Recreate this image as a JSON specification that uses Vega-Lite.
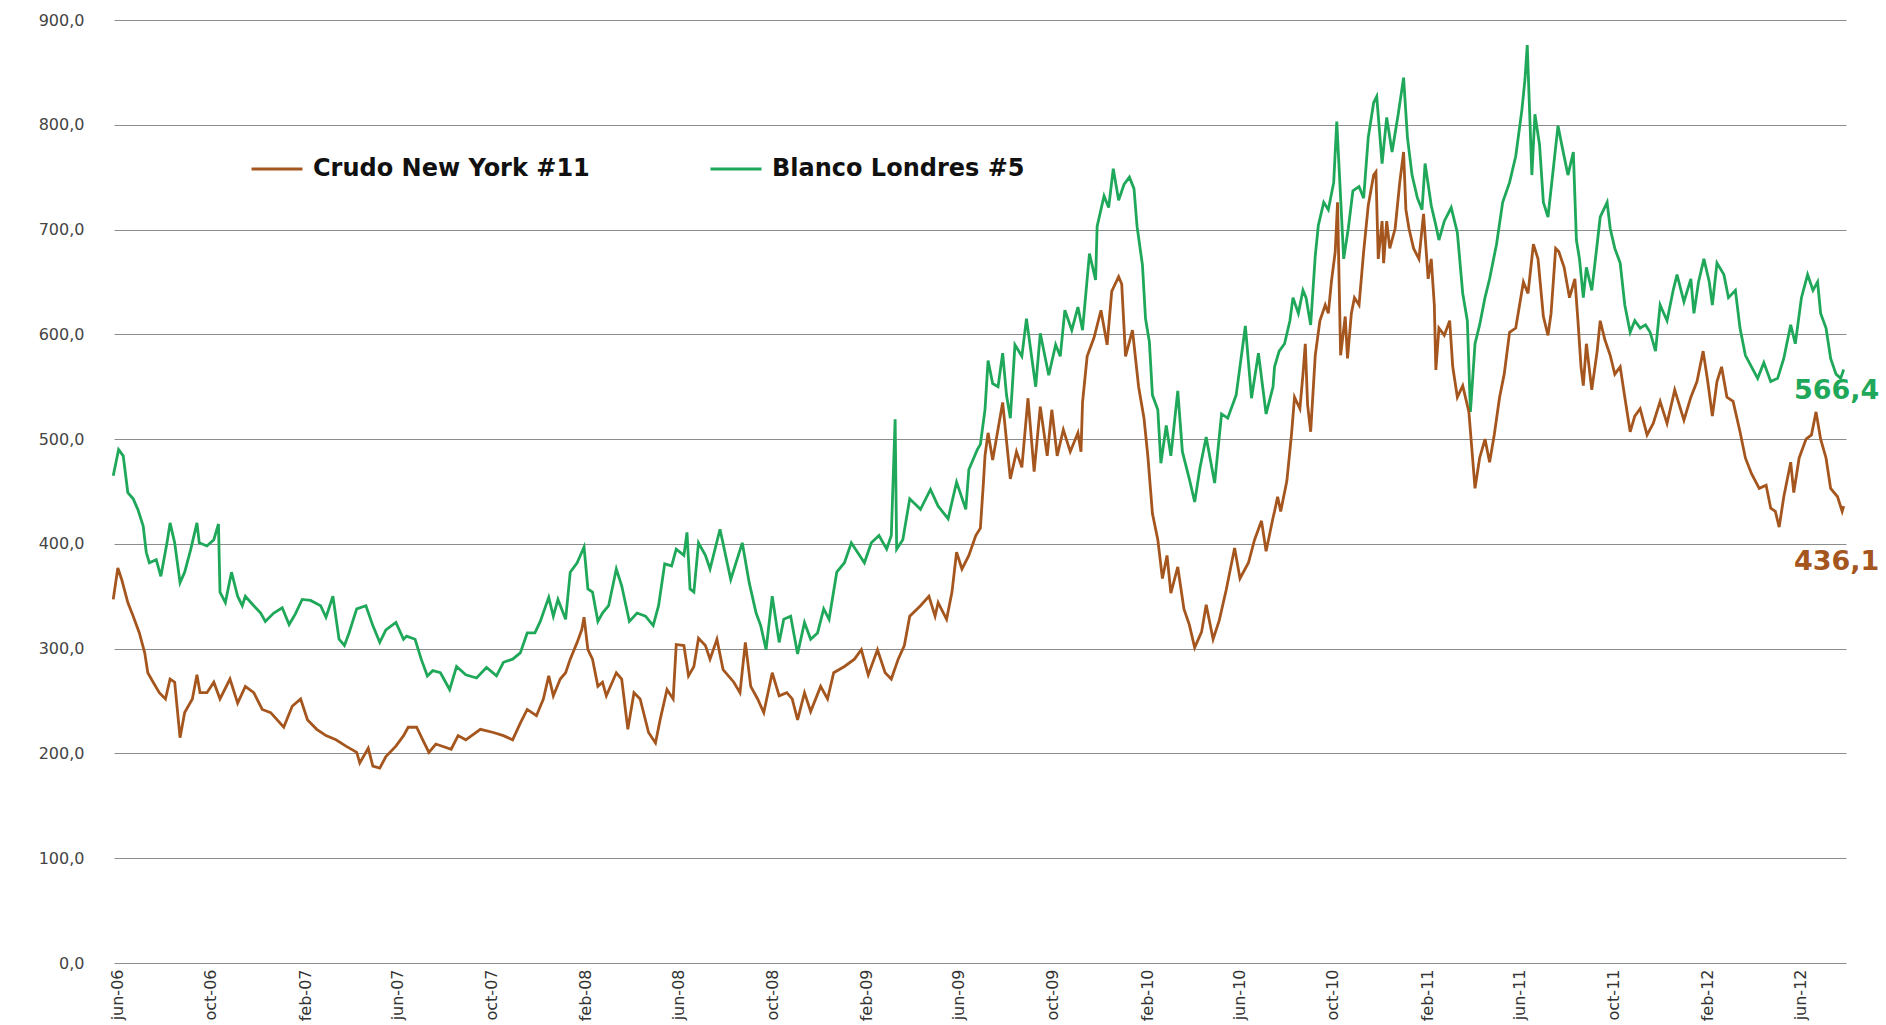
{
"$schema": "https://vega.github.io/schema/vega-lite/v6.json",
"width": 1732, "height": 943,
"autosize": {"type": "none"},
"padding": {"left": 114, "top": 20, "right": 40, "bottom": 62},
"background": "white",
"config": {"view": {"stroke": null}},
"layer": [
{
"data": {"values": [
{"s":"B","d":"2006-05-27","v":465},{"s":"B","d":"2006-06-03","v":490},{"s":"B","d":"2006-06-09","v":484},{"s":"B","d":"2006-06-15","v":449},{"s":"B","d":"2006-06-22","v":443},{"s":"B","d":"2006-06-28","v":433},{"s":"B","d":"2006-07-05","v":417},{"s":"B","d":"2006-07-09","v":392},{"s":"B","d":"2006-07-13","v":382},{"s":"B","d":"2006-07-22","v":385},{"s":"B","d":"2006-07-28","v":369},{"s":"B","d":"2006-08-05","v":401},{"s":"B","d":"2006-08-09","v":420},{"s":"B","d":"2006-08-15","v":401},{"s":"B","d":"2006-08-22","v":363},{"s":"B","d":"2006-08-28","v":373},{"s":"B","d":"2006-09-05","v":395},{"s":"B","d":"2006-09-13","v":420},{"s":"B","d":"2006-09-16","v":401},{"s":"B","d":"2006-09-26","v":398},{"s":"B","d":"2006-10-05","v":404},{"s":"B","d":"2006-10-11","v":419},{"s":"B","d":"2006-10-13","v":354},{"s":"B","d":"2006-10-20","v":344},{"s":"B","d":"2006-10-28","v":373},{"s":"B","d":"2006-11-05","v":350},{"s":"B","d":"2006-11-11","v":341},{"s":"B","d":"2006-11-15","v":350},{"s":"B","d":"2006-11-26","v":341},{"s":"B","d":"2006-12-05","v":334},{"s":"B","d":"2006-12-11","v":326},{"s":"B","d":"2006-12-22","v":334},
{"s":"B","d":"2007-01-02","v":339},{"s":"B","d":"2007-01-11","v":323},{"s":"B","d":"2007-01-19","v":333},{"s":"B","d":"2007-01-28","v":347},{"s":"B","d":"2007-02-08","v":346},{"s":"B","d":"2007-02-21","v":341},{"s":"B","d":"2007-02-28","v":330},{"s":"B","d":"2007-03-09","v":350},{"s":"B","d":"2007-03-17","v":309},{"s":"B","d":"2007-03-24","v":303},{"s":"B","d":"2007-03-30","v":315},{"s":"B","d":"2007-04-09","v":338},{"s":"B","d":"2007-04-21","v":341},{"s":"B","d":"2007-04-30","v":322},{"s":"B","d":"2007-05-09","v":306},{"s":"B","d":"2007-05-17","v":318},{"s":"B","d":"2007-05-30","v":325},{"s":"B","d":"2007-06-09","v":309},{"s":"B","d":"2007-06-13","v":312},{"s":"B","d":"2007-06-24","v":309},{"s":"B","d":"2007-07-02","v":290},{"s":"B","d":"2007-07-10","v":274},{"s":"B","d":"2007-07-17","v":279},{"s":"B","d":"2007-07-27","v":277},{"s":"B","d":"2007-08-08","v":261},{"s":"B","d":"2007-08-17","v":283},{"s":"B","d":"2007-08-29","v":275},{"s":"B","d":"2007-09-12","v":272},{"s":"B","d":"2007-09-25","v":282},{"s":"B","d":"2007-10-08","v":274},{"s":"B","d":"2007-10-17","v":287},{"s":"B","d":"2007-10-29","v":290},{"s":"B","d":"2007-11-08","v":296},{"s":"B","d":"2007-11-17","v":315},{"s":"B","d":"2007-11-27","v":315},{"s":"B","d":"2007-12-04","v":326},{"s":"B","d":"2007-12-15","v":349},{"s":"B","d":"2007-12-21","v":331},{"s":"B","d":"2007-12-27","v":347},
{"s":"B","d":"2008-01-06","v":328},{"s":"B","d":"2008-01-12","v":373},{"s":"B","d":"2008-01-21","v":382},{"s":"B","d":"2008-01-27","v":392},{"s":"B","d":"2008-01-30","v":397},{"s":"B","d":"2008-02-04","v":357},{"s":"B","d":"2008-02-10","v":354},{"s":"B","d":"2008-02-17","v":326},{"s":"B","d":"2008-02-23","v":334},{"s":"B","d":"2008-03-02","v":341},{"s":"B","d":"2008-03-12","v":376},{"s":"B","d":"2008-03-19","v":360},{"s":"B","d":"2008-03-29","v":326},{"s":"B","d":"2008-04-08","v":334},{"s":"B","d":"2008-04-19","v":331},{"s":"B","d":"2008-04-29","v":322},{"s":"B","d":"2008-05-06","v":341},{"s":"B","d":"2008-05-14","v":381},{"s":"B","d":"2008-05-23","v":379},{"s":"B","d":"2008-05-29","v":395},{"s":"B","d":"2008-06-08","v":389},{"s":"B","d":"2008-06-12","v":411},{"s":"B","d":"2008-06-16","v":357},{"s":"B","d":"2008-06-21","v":354},{"s":"B","d":"2008-06-27","v":401},{"s":"B","d":"2008-07-06","v":389},{"s":"B","d":"2008-07-12","v":376},{"s":"B","d":"2008-07-25","v":414},{"s":"B","d":"2008-08-08","v":366},{"s":"B","d":"2008-08-23","v":401},{"s":"B","d":"2008-09-01","v":363},{"s":"B","d":"2008-09-10","v":334},{"s":"B","d":"2008-09-16","v":322},{"s":"B","d":"2008-09-23","v":299},{"s":"B","d":"2008-10-01","v":350},{"s":"B","d":"2008-10-10","v":306},{"s":"B","d":"2008-10-16","v":328},{"s":"B","d":"2008-10-25","v":331},{"s":"B","d":"2008-11-03","v":295},{"s":"B","d":"2008-11-12","v":325},{"s":"B","d":"2008-11-20","v":309},{"s":"B","d":"2008-11-29","v":315},{"s":"B","d":"2008-12-07","v":338},{"s":"B","d":"2008-12-14","v":328},{"s":"B","d":"2008-12-24","v":373},
{"s":"B","d":"2009-01-03","v":382},{"s":"B","d":"2009-01-12","v":401},{"s":"B","d":"2009-01-20","v":392},{"s":"B","d":"2009-01-29","v":382},{"s":"B","d":"2009-02-07","v":401},{"s":"B","d":"2009-02-17","v":408},{"s":"B","d":"2009-02-27","v":395},{"s":"B","d":"2009-03-05","v":408},{"s":"B","d":"2009-03-10","v":519},{"s":"B","d":"2009-03-12","v":395},{"s":"B","d":"2009-03-20","v":404},{"s":"B","d":"2009-03-29","v":443},{"s":"B","d":"2009-04-12","v":433},{"s":"B","d":"2009-04-25","v":452},{"s":"B","d":"2009-05-05","v":436},{"s":"B","d":"2009-05-18","v":424},{"s":"B","d":"2009-05-29","v":459},{"s":"B","d":"2009-06-10","v":433},{"s":"B","d":"2009-06-14","v":471},{"s":"B","d":"2009-06-25","v":490},{"s":"B","d":"2009-06-29","v":495},{"s":"B","d":"2009-07-05","v":528},{"s":"B","d":"2009-07-09","v":575},{"s":"B","d":"2009-07-15","v":553},{"s":"B","d":"2009-07-22","v":550},{"s":"B","d":"2009-07-28","v":582},{"s":"B","d":"2009-08-02","v":542},{"s":"B","d":"2009-08-07","v":520},{"s":"B","d":"2009-08-13","v":590},{"s":"B","d":"2009-08-22","v":579},{"s":"B","d":"2009-08-28","v":615},{"s":"B","d":"2009-09-09","v":550},{"s":"B","d":"2009-09-15","v":601},{"s":"B","d":"2009-09-26","v":561},{"s":"B","d":"2009-10-05","v":590},{"s":"B","d":"2009-10-11","v":579},{"s":"B","d":"2009-10-17","v":623},{"s":"B","d":"2009-10-26","v":604},{"s":"B","d":"2009-11-03","v":626},{"s":"B","d":"2009-11-09","v":604},{"s":"B","d":"2009-11-18","v":677},{"s":"B","d":"2009-11-26","v":652},{"s":"B","d":"2009-11-28","v":703},{"s":"B","d":"2009-12-07","v":732},{"s":"B","d":"2009-12-13","v":721},{"s":"B","d":"2009-12-19","v":758},{"s":"B","d":"2009-12-26","v":728},
{"s":"B","d":"2010-01-02","v":743},{"s":"B","d":"2010-01-09","v":750},{"s":"B","d":"2010-01-15","v":739},{"s":"B","d":"2010-01-19","v":703},{"s":"B","d":"2010-01-26","v":666},{"s":"B","d":"2010-01-30","v":615},{"s":"B","d":"2010-02-04","v":593},{"s":"B","d":"2010-02-08","v":542},{"s":"B","d":"2010-02-15","v":528},{"s":"B","d":"2010-02-19","v":477},{"s":"B","d":"2010-02-26","v":513},{"s":"B","d":"2010-03-04","v":484},{"s":"B","d":"2010-03-13","v":546},{"s":"B","d":"2010-03-19","v":488},{"s":"B","d":"2010-03-28","v":462},{"s":"B","d":"2010-04-04","v":440},{"s":"B","d":"2010-04-11","v":473},{"s":"B","d":"2010-04-19","v":502},{"s":"B","d":"2010-04-30","v":458},{"s":"B","d":"2010-05-09","v":524},{"s":"B","d":"2010-05-17","v":520},{"s":"B","d":"2010-05-28","v":542},{"s":"B","d":"2010-06-09","v":608},{"s":"B","d":"2010-06-17","v":539},{"s":"B","d":"2010-06-26","v":582},{"s":"B","d":"2010-07-06","v":524},{"s":"B","d":"2010-07-15","v":550},{"s":"B","d":"2010-07-17","v":569},{"s":"B","d":"2010-07-23","v":584},{"s":"B","d":"2010-07-30","v":591},{"s":"B","d":"2010-08-06","v":613},{"s":"B","d":"2010-08-10","v":635},{"s":"B","d":"2010-08-17","v":620},{"s":"B","d":"2010-08-23","v":642},{"s":"B","d":"2010-08-27","v":635},{"s":"B","d":"2010-09-02","v":609},{"s":"B","d":"2010-09-08","v":675},{"s":"B","d":"2010-09-12","v":704},{"s":"B","d":"2010-09-19","v":726},{"s":"B","d":"2010-09-25","v":719},{"s":"B","d":"2010-10-02","v":745},{"s":"B","d":"2010-10-06","v":803},{"s":"B","d":"2010-10-10","v":745},{"s":"B","d":"2010-10-15","v":672},{"s":"B","d":"2010-10-21","v":701},{"s":"B","d":"2010-10-27","v":737},{"s":"B","d":"2010-11-04","v":741},{"s":"B","d":"2010-11-10","v":730},{"s":"B","d":"2010-11-16","v":788},{"s":"B","d":"2010-11-23","v":821},{"s":"B","d":"2010-11-27","v":827},{"s":"B","d":"2010-12-04","v":763},{"s":"B","d":"2010-12-10","v":807},{"s":"B","d":"2010-12-17","v":774},{"s":"B","d":"2010-12-25","v":810},
{"s":"B","d":"2011-01-01","v":845},{"s":"B","d":"2011-01-06","v":788},{"s":"B","d":"2011-01-12","v":752},{"s":"B","d":"2011-01-19","v":730},{"s":"B","d":"2011-01-25","v":719},{"s":"B","d":"2011-01-29","v":763},{"s":"B","d":"2011-02-06","v":723},{"s":"B","d":"2011-02-12","v":704},{"s":"B","d":"2011-02-16","v":690},{"s":"B","d":"2011-02-23","v":708},{"s":"B","d":"2011-03-04","v":721},{"s":"B","d":"2011-03-12","v":697},{"s":"B","d":"2011-03-19","v":639},{"s":"B","d":"2011-03-25","v":613},{"s":"B","d":"2011-03-29","v":526},{"s":"B","d":"2011-04-04","v":591},{"s":"B","d":"2011-04-10","v":609},{"s":"B","d":"2011-04-17","v":635},{"s":"B","d":"2011-04-23","v":653},{"s":"B","d":"2011-05-02","v":686},{"s":"B","d":"2011-05-10","v":726},{"s":"B","d":"2011-05-19","v":745},{"s":"B","d":"2011-05-27","v":770},{"s":"B","d":"2011-06-04","v":814},{"s":"B","d":"2011-06-08","v":843},{"s":"B","d":"2011-06-11","v":876},{"s":"B","d":"2011-06-14","v":814},{"s":"B","d":"2011-06-17","v":752},{"s":"B","d":"2011-06-21","v":810},{"s":"B","d":"2011-06-27","v":781},{"s":"B","d":"2011-07-02","v":726},{"s":"B","d":"2011-07-08","v":712},{"s":"B","d":"2011-07-14","v":752},{"s":"B","d":"2011-07-21","v":799},{"s":"B","d":"2011-07-27","v":777},{"s":"B","d":"2011-08-03","v":752},{"s":"B","d":"2011-08-10","v":774},{"s":"B","d":"2011-08-14","v":690},{"s":"B","d":"2011-08-18","v":672},{"s":"B","d":"2011-08-23","v":635},{"s":"B","d":"2011-08-27","v":664},{"s":"B","d":"2011-09-03","v":642},{"s":"B","d":"2011-09-10","v":686},{"s":"B","d":"2011-09-14","v":712},{"s":"B","d":"2011-09-23","v":726},{"s":"B","d":"2011-09-27","v":701},{"s":"B","d":"2011-10-03","v":682},{"s":"B","d":"2011-10-10","v":668},{"s":"B","d":"2011-10-16","v":628},{"s":"B","d":"2011-10-23","v":602},{"s":"B","d":"2011-10-29","v":613},{"s":"B","d":"2011-11-05","v":606},{"s":"B","d":"2011-11-12","v":609},{"s":"B","d":"2011-11-18","v":602},{"s":"B","d":"2011-11-25","v":584},{"s":"B","d":"2011-12-01","v":628},{"s":"B","d":"2011-12-10","v":613},{"s":"B","d":"2011-12-18","v":642},{"s":"B","d":"2011-12-23","v":657},
{"s":"B","d":"2012-01-01","v":631},{"s":"B","d":"2012-01-10","v":653},{"s":"B","d":"2012-01-14","v":620},{"s":"B","d":"2012-01-20","v":650},{"s":"B","d":"2012-01-27","v":672},{"s":"B","d":"2012-02-03","v":650},{"s":"B","d":"2012-02-07","v":628},{"s":"B","d":"2012-02-13","v":668},{"s":"B","d":"2012-02-22","v":657},{"s":"B","d":"2012-02-28","v":635},{"s":"B","d":"2012-03-08","v":642},{"s":"B","d":"2012-03-14","v":606},{"s":"B","d":"2012-03-21","v":580},{"s":"B","d":"2012-03-29","v":569},{"s":"B","d":"2012-04-06","v":558},{"s":"B","d":"2012-04-14","v":573},{"s":"B","d":"2012-04-23","v":555},{"s":"B","d":"2012-05-02","v":558},{"s":"B","d":"2012-05-10","v":577},{"s":"B","d":"2012-05-19","v":609},{"s":"B","d":"2012-05-25","v":591},{"s":"B","d":"2012-06-02","v":635},{"s":"B","d":"2012-06-10","v":657},{"s":"B","d":"2012-06-17","v":642},{"s":"B","d":"2012-06-23","v":650},{"s":"B","d":"2012-06-27","v":620},{"s":"B","d":"2012-07-04","v":606},{"s":"B","d":"2012-07-10","v":577},{"s":"B","d":"2012-07-17","v":562},{"s":"B","d":"2012-07-23","v":558},{"s":"B","d":"2012-07-27","v":566.4},
{"s":"C","d":"2006-05-27","v":347},{"s":"C","d":"2006-06-02","v":377},{"s":"C","d":"2006-06-07","v":366},{"s":"C","d":"2006-06-15","v":344},{"s":"C","d":"2006-06-22","v":331},{"s":"C","d":"2006-06-30","v":315},{"s":"C","d":"2006-07-07","v":296},{"s":"C","d":"2006-07-11","v":277},{"s":"C","d":"2006-07-18","v":268},{"s":"C","d":"2006-07-26","v":258},{"s":"C","d":"2006-08-03","v":252},{"s":"C","d":"2006-08-09","v":271},{"s":"C","d":"2006-08-15","v":268},{"s":"C","d":"2006-08-22","v":215},{"s":"C","d":"2006-08-28","v":239},{"s":"C","d":"2006-09-07","v":252},{"s":"C","d":"2006-09-13","v":275},{"s":"C","d":"2006-09-17","v":258},{"s":"C","d":"2006-09-26","v":258},{"s":"C","d":"2006-10-05","v":268},{"s":"C","d":"2006-10-13","v":252},{"s":"C","d":"2006-10-26","v":271},{"s":"C","d":"2006-11-05","v":248},{"s":"C","d":"2006-11-15","v":264},{"s":"C","d":"2006-11-26","v":258},{"s":"C","d":"2006-12-07","v":242},{"s":"C","d":"2006-12-18","v":239},
{"s":"C","d":"2007-01-04","v":225},{"s":"C","d":"2007-01-15","v":245},{"s":"C","d":"2007-01-26","v":252},{"s":"C","d":"2007-02-04","v":232},{"s":"C","d":"2007-02-16","v":223},{"s":"C","d":"2007-02-28","v":217},{"s":"C","d":"2007-03-13","v":213},{"s":"C","d":"2007-03-26","v":207},{"s":"C","d":"2007-04-09","v":201},{"s":"C","d":"2007-04-13","v":191},{"s":"C","d":"2007-04-24","v":205},{"s":"C","d":"2007-04-30","v":188},{"s":"C","d":"2007-05-09","v":186},{"s":"C","d":"2007-05-17","v":197},{"s":"C","d":"2007-05-30","v":207},{"s":"C","d":"2007-06-09","v":217},{"s":"C","d":"2007-06-15","v":225},{"s":"C","d":"2007-06-26","v":225},{"s":"C","d":"2007-07-04","v":213},{"s":"C","d":"2007-07-12","v":201},{"s":"C","d":"2007-07-21","v":209},{"s":"C","d":"2007-08-10","v":204},{"s":"C","d":"2007-08-19","v":217},{"s":"C","d":"2007-08-29","v":213},{"s":"C","d":"2007-09-17","v":223},{"s":"C","d":"2007-10-04","v":220},{"s":"C","d":"2007-10-17","v":217},{"s":"C","d":"2007-10-29","v":213},{"s":"C","d":"2007-11-08","v":229},{"s":"C","d":"2007-11-17","v":242},{"s":"C","d":"2007-11-29","v":236},{"s":"C","d":"2007-12-08","v":252},{"s":"C","d":"2007-12-15","v":274},{"s":"C","d":"2007-12-21","v":255},{"s":"C","d":"2007-12-30","v":271},
{"s":"C","d":"2008-01-06","v":277},{"s":"C","d":"2008-01-12","v":290},{"s":"C","d":"2008-01-21","v":306},{"s":"C","d":"2008-01-27","v":318},{"s":"C","d":"2008-01-30","v":330},{"s":"C","d":"2008-02-04","v":299},{"s":"C","d":"2008-02-10","v":290},{"s":"C","d":"2008-02-17","v":264},{"s":"C","d":"2008-02-23","v":268},{"s":"C","d":"2008-02-28","v":255},{"s":"C","d":"2008-03-12","v":277},{"s":"C","d":"2008-03-19","v":271},{"s":"C","d":"2008-03-27","v":223},{"s":"C","d":"2008-04-04","v":258},{"s":"C","d":"2008-04-12","v":252},{"s":"C","d":"2008-04-23","v":220},{"s":"C","d":"2008-05-02","v":210},{"s":"C","d":"2008-05-08","v":232},{"s":"C","d":"2008-05-17","v":261},{"s":"C","d":"2008-05-25","v":252},{"s":"C","d":"2008-05-29","v":304},{"s":"C","d":"2008-06-08","v":303},{"s":"C","d":"2008-06-14","v":274},{"s":"C","d":"2008-06-21","v":283},{"s":"C","d":"2008-06-27","v":310},{"s":"C","d":"2008-07-06","v":303},{"s":"C","d":"2008-07-12","v":290},{"s":"C","d":"2008-07-21","v":309},{"s":"C","d":"2008-07-29","v":280},{"s":"C","d":"2008-08-12","v":268},{"s":"C","d":"2008-08-20","v":258},{"s":"C","d":"2008-08-27","v":306},{"s":"C","d":"2008-09-03","v":264},{"s":"C","d":"2008-09-12","v":252},{"s":"C","d":"2008-09-20","v":239},{"s":"C","d":"2008-10-01","v":277},{"s":"C","d":"2008-10-10","v":255},{"s":"C","d":"2008-10-20","v":258},{"s":"C","d":"2008-10-27","v":252},{"s":"C","d":"2008-11-03","v":232},{"s":"C","d":"2008-11-12","v":258},{"s":"C","d":"2008-11-20","v":240},{"s":"C","d":"2008-12-03","v":264},{"s":"C","d":"2008-12-12","v":252},{"s":"C","d":"2008-12-20","v":277},
{"s":"C","d":"2009-01-03","v":283},{"s":"C","d":"2009-01-16","v":290},{"s":"C","d":"2009-01-25","v":299},{"s":"C","d":"2009-02-03","v":275},{"s":"C","d":"2009-02-15","v":299},{"s":"C","d":"2009-02-25","v":277},{"s":"C","d":"2009-03-05","v":271},{"s":"C","d":"2009-03-14","v":290},{"s":"C","d":"2009-03-22","v":303},{"s":"C","d":"2009-03-29","v":331},{"s":"C","d":"2009-04-12","v":341},{"s":"C","d":"2009-04-23","v":350},{"s":"C","d":"2009-05-01","v":331},{"s":"C","d":"2009-05-05","v":344},{"s":"C","d":"2009-05-16","v":328},{"s":"C","d":"2009-05-23","v":354},{"s":"C","d":"2009-05-29","v":392},{"s":"C","d":"2009-06-05","v":376},{"s":"C","d":"2009-06-14","v":389},{"s":"C","d":"2009-06-23","v":408},{"s":"C","d":"2009-06-29","v":415},{"s":"C","d":"2009-07-03","v":459},{"s":"C","d":"2009-07-05","v":484},{"s":"C","d":"2009-07-09","v":506},{"s":"C","d":"2009-07-15","v":480},{"s":"C","d":"2009-07-28","v":535},{"s":"C","d":"2009-08-07","v":462},{"s":"C","d":"2009-08-15","v":488},{"s":"C","d":"2009-08-22","v":473},{"s":"C","d":"2009-08-30","v":539},{"s":"C","d":"2009-09-07","v":469},{"s":"C","d":"2009-09-15","v":531},{"s":"C","d":"2009-09-24","v":484},{"s":"C","d":"2009-09-30","v":528},{"s":"C","d":"2009-10-07","v":484},{"s":"C","d":"2009-10-15","v":509},{"s":"C","d":"2009-10-24","v":488},{"s":"C","d":"2009-11-03","v":506},{"s":"C","d":"2009-11-07","v":488},{"s":"C","d":"2009-11-09","v":535},{"s":"C","d":"2009-11-15","v":579},{"s":"C","d":"2009-11-24","v":597},{"s":"C","d":"2009-12-03","v":623},{"s":"C","d":"2009-12-11","v":590},{"s":"C","d":"2009-12-17","v":641},{"s":"C","d":"2009-12-26","v":655},{"s":"C","d":"2009-12-30","v":648},
{"s":"C","d":"2010-01-04","v":579},{"s":"C","d":"2010-01-13","v":604},{"s":"C","d":"2010-01-21","v":550},{"s":"C","d":"2010-01-28","v":520},{"s":"C","d":"2010-02-02","v":484},{"s":"C","d":"2010-02-08","v":429},{"s":"C","d":"2010-02-15","v":404},{"s":"C","d":"2010-02-21","v":367},{"s":"C","d":"2010-02-27","v":389},{"s":"C","d":"2010-03-04","v":353},{"s":"C","d":"2010-03-13","v":378},{"s":"C","d":"2010-03-21","v":338},{"s":"C","d":"2010-03-28","v":323},{"s":"C","d":"2010-04-04","v":301},{"s":"C","d":"2010-04-13","v":316},{"s":"C","d":"2010-04-19","v":342},{"s":"C","d":"2010-04-28","v":309},{"s":"C","d":"2010-05-06","v":327},{"s":"C","d":"2010-05-15","v":356},{"s":"C","d":"2010-05-26","v":396},{"s":"C","d":"2010-06-02","v":367},{"s":"C","d":"2010-06-13","v":382},{"s":"C","d":"2010-06-21","v":404},{"s":"C","d":"2010-06-30","v":422},{"s":"C","d":"2010-07-06","v":393},{"s":"C","d":"2010-07-15","v":425},{"s":"C","d":"2010-07-17","v":431},{"s":"C","d":"2010-07-21","v":445},{"s":"C","d":"2010-07-25","v":431},{"s":"C","d":"2010-08-02","v":460},{"s":"C","d":"2010-08-08","v":504},{"s":"C","d":"2010-08-12","v":540},{"s":"C","d":"2010-08-19","v":529},{"s":"C","d":"2010-08-23","v":562},{"s":"C","d":"2010-08-26","v":591},{"s":"C","d":"2010-08-29","v":533},{"s":"C","d":"2010-09-02","v":507},{"s":"C","d":"2010-09-08","v":580},{"s":"C","d":"2010-09-14","v":613},{"s":"C","d":"2010-09-21","v":628},{"s":"C","d":"2010-09-25","v":620},{"s":"C","d":"2010-09-29","v":650},{"s":"C","d":"2010-10-04","v":679},{"s":"C","d":"2010-10-07","v":726},{"s":"C","d":"2010-10-11","v":580},{"s":"C","d":"2010-10-17","v":617},{"s":"C","d":"2010-10-20","v":577},{"s":"C","d":"2010-10-25","v":620},{"s":"C","d":"2010-10-29","v":635},{"s":"C","d":"2010-11-04","v":628},{"s":"C","d":"2010-11-10","v":679},{"s":"C","d":"2010-11-16","v":723},{"s":"C","d":"2010-11-23","v":752},{"s":"C","d":"2010-11-26","v":755},{"s":"C","d":"2010-11-29","v":672},{"s":"C","d":"2010-12-04","v":708},{"s":"C","d":"2010-12-06","v":668},{"s":"C","d":"2010-12-10","v":708},{"s":"C","d":"2010-12-14","v":682},{"s":"C","d":"2010-12-21","v":701},{"s":"C","d":"2010-12-27","v":745},
{"s":"C","d":"2011-01-01","v":774},{"s":"C","d":"2011-01-04","v":719},{"s":"C","d":"2011-01-08","v":701},{"s":"C","d":"2011-01-14","v":682},{"s":"C","d":"2011-01-21","v":672},{"s":"C","d":"2011-01-27","v":715},{"s":"C","d":"2011-02-02","v":653},{"s":"C","d":"2011-02-06","v":672},{"s":"C","d":"2011-02-10","v":628},{"s":"C","d":"2011-02-12","v":566},{"s":"C","d":"2011-02-16","v":606},{"s":"C","d":"2011-02-23","v":599},{"s":"C","d":"2011-03-02","v":613},{"s":"C","d":"2011-03-06","v":569},{"s":"C","d":"2011-03-12","v":540},{"s":"C","d":"2011-03-19","v":551},{"s":"C","d":"2011-03-27","v":526},{"s":"C","d":"2011-04-04","v":453},{"s":"C","d":"2011-04-10","v":482},{"s":"C","d":"2011-04-17","v":500},{"s":"C","d":"2011-04-23","v":478},{"s":"C","d":"2011-04-29","v":504},{"s":"C","d":"2011-05-06","v":540},{"s":"C","d":"2011-05-12","v":562},{"s":"C","d":"2011-05-19","v":602},{"s":"C","d":"2011-05-27","v":606},{"s":"C","d":"2011-06-06","v":650},{"s":"C","d":"2011-06-12","v":639},{"s":"C","d":"2011-06-19","v":686},{"s":"C","d":"2011-06-25","v":672},{"s":"C","d":"2011-07-02","v":617},{"s":"C","d":"2011-07-08","v":599},{"s":"C","d":"2011-07-12","v":620},{"s":"C","d":"2011-07-18","v":682},{"s":"C","d":"2011-07-22","v":679},{"s":"C","d":"2011-07-29","v":664},{"s":"C","d":"2011-08-05","v":635},{"s":"C","d":"2011-08-12","v":653},{"s":"C","d":"2011-08-16","v":613},{"s":"C","d":"2011-08-20","v":569},{"s":"C","d":"2011-08-23","v":551},{"s":"C","d":"2011-08-27","v":591},{"s":"C","d":"2011-09-03","v":547},{"s":"C","d":"2011-09-10","v":584},{"s":"C","d":"2011-09-14","v":613},{"s":"C","d":"2011-09-20","v":595},{"s":"C","d":"2011-09-27","v":580},{"s":"C","d":"2011-10-03","v":562},{"s":"C","d":"2011-10-10","v":569},{"s":"C","d":"2011-10-16","v":540},{"s":"C","d":"2011-10-23","v":507},{"s":"C","d":"2011-10-29","v":522},{"s":"C","d":"2011-11-05","v":529},{"s":"C","d":"2011-11-14","v":504},{"s":"C","d":"2011-11-22","v":515},{"s":"C","d":"2011-12-01","v":536},{"s":"C","d":"2011-12-10","v":515},{"s":"C","d":"2011-12-20","v":547},
{"s":"C","d":"2012-01-01","v":518},{"s":"C","d":"2012-01-10","v":540},{"s":"C","d":"2012-01-18","v":555},{"s":"C","d":"2012-01-26","v":584},{"s":"C","d":"2012-02-01","v":555},{"s":"C","d":"2012-02-07","v":522},{"s":"C","d":"2012-02-13","v":555},{"s":"C","d":"2012-02-19","v":569},{"s":"C","d":"2012-02-26","v":540},{"s":"C","d":"2012-03-05","v":536},{"s":"C","d":"2012-03-14","v":507},{"s":"C","d":"2012-03-21","v":482},{"s":"C","d":"2012-03-29","v":467},{"s":"C","d":"2012-04-08","v":453},{"s":"C","d":"2012-04-17","v":456},{"s":"C","d":"2012-04-23","v":434},{"s":"C","d":"2012-04-29","v":431},{"s":"C","d":"2012-05-04","v":416},{"s":"C","d":"2012-05-10","v":445},{"s":"C","d":"2012-05-19","v":478},{"s":"C","d":"2012-05-23","v":449},{"s":"C","d":"2012-05-30","v":482},{"s":"C","d":"2012-06-08","v":500},{"s":"C","d":"2012-06-15","v":504},{"s":"C","d":"2012-06-21","v":526},{"s":"C","d":"2012-06-27","v":500},{"s":"C","d":"2012-07-04","v":482},{"s":"C","d":"2012-07-10","v":453},{"s":"C","d":"2012-07-19","v":445},{"s":"C","d":"2012-07-25","v":431},{"s":"C","d":"2012-07-27","v":436.1}
]},
"mark": {"type": "line", "strokeWidth": 2.8},
"encoding": {
"x": {"field": "d", "type": "temporal",
 "scale": {"type": "utc", "domain": [{"year": 2006, "month": 5, "date": 28, "utc": true}, {"year": 2012, "month": 7, "date": 30, "utc": true}]},
 "axis": {"title": null, "grid": false, "domain": false, "ticks": false, "labelAngle": -90, "labelFont": "DejaVu Sans", "labelFontSize": 16, "labelColor": "#333333", "labelPadding": 6,
 "labelExpr": "lower(utcFormat(datum.value, '%b-%y'))",
 "values": [
 {"year":2006,"month":6,"date":1,"utc":true},{"year":2006,"month":10,"date":1,"utc":true},
 {"year":2007,"month":2,"date":1,"utc":true},{"year":2007,"month":6,"date":1,"utc":true},{"year":2007,"month":10,"date":1,"utc":true},
 {"year":2008,"month":2,"date":1,"utc":true},{"year":2008,"month":6,"date":1,"utc":true},{"year":2008,"month":10,"date":1,"utc":true},
 {"year":2009,"month":2,"date":1,"utc":true},{"year":2009,"month":6,"date":1,"utc":true},{"year":2009,"month":10,"date":1,"utc":true},
 {"year":2010,"month":2,"date":1,"utc":true},{"year":2010,"month":6,"date":1,"utc":true},{"year":2010,"month":10,"date":1,"utc":true},
 {"year":2011,"month":2,"date":1,"utc":true},{"year":2011,"month":6,"date":1,"utc":true},{"year":2011,"month":10,"date":1,"utc":true},
 {"year":2012,"month":2,"date":1,"utc":true},{"year":2012,"month":6,"date":1,"utc":true}
 ]}},
"y": {"field": "v", "type": "quantitative",
 "scale": {"domain": [0, 900], "nice": false, "zero": true},
 "axis": {"title": null, "values": [0,100,200,300,400,500,600,700,800,900], "grid": true, "gridColor": "#8c8c8c", "gridWidth": 1, "domain": false, "ticks": false, "labelPadding": 30, "labelFont": "DejaVu Sans", "labelFontSize": 16, "labelColor": "#444444",
 "labelExpr": "replace(format(datum.value, '.1f'), '.', ',')"}},
"color": {"field": "s", "type": "nominal",
 "scale": {"domain": ["C", "B"], "range": ["#A5561E", "#1FA85A"]},
 "legend": {"title": null, "orient": "none", "legendX": 136, "legendY": 122, "direction": "horizontal", "padding": 0,
 "symbolType": "stroke", "symbolSize": 2601, "symbolStrokeWidth": 3,
 "labelFont": "DejaVu Sans", "labelFontWeight": "bold", "labelFontSize": 24, "labelColor": "#111111", "labelOffset": 9, "labelLimit": 600, "columnPadding": 114,
 "labelExpr": "datum.label == 'C' ? 'Crudo New York #11' : 'Blanco Londres #5'"}}
}
},
{
"data": {"values": [{"d": "2012-07-27", "v": 566.4, "t": "566,4"}]},
"mark": {"type": "text", "dx": -7, "dy": 21, "align": "center", "baseline": "middle", "font": "DejaVu Sans", "fontWeight": "bold", "fontSize": 27, "color": "#1FA85A"},
"encoding": {"x": {"field": "d", "type": "temporal"}, "y": {"field": "v", "type": "quantitative"}, "text": {"field": "t"}}
},
{
"data": {"values": [{"d": "2012-07-27", "v": 436.1, "t": "436,1"}]},
"mark": {"type": "text", "dx": -7, "dy": 56, "align": "center", "baseline": "middle", "font": "DejaVu Sans", "fontWeight": "bold", "fontSize": 27, "color": "#A5561E"},
"encoding": {"x": {"field": "d", "type": "temporal"}, "y": {"field": "v", "type": "quantitative"}, "text": {"field": "t"}}
}
]
}
